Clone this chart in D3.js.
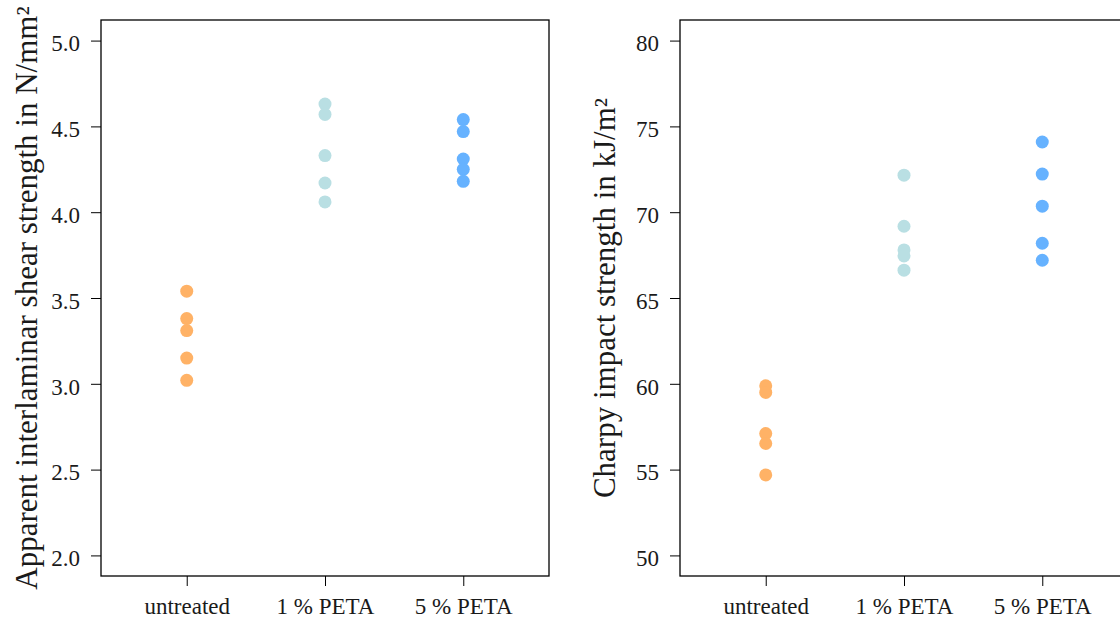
<!DOCTYPE html>
<html>
<head>
<meta charset="utf-8">
<script src="https://cdn.jsdelivr.net/npm/d3@7"></script>
<style>
  body { margin: 0; background: #fff; }
  svg { display: block; }
  svg text { font-family: "Liberation Serif", "Times New Roman", serif; }
</style>
</head>
<body>
<div id="chart"></div>
<script>
var groups = ["untreated", "1 % PETA", "5 % PETA"];
var groupColors = ["#FFB266", "#B9DFE3", "#66B2FF"];

// apparent interlaminar shear strength, N/mm²
var shearUntreated = [3.54, 3.38, 3.31, 3.15, 3.02];
var shearPeta1 = [4.63, 4.57, 4.33, 4.17, 4.06];
var shearPeta5 = [4.54, 4.47, 4.31, 4.25, 4.18];
var shearTicks = [2.0, 2.5, 3.0, 3.5, 4.0, 4.5, 5.0];

// charpy impact strength, kJ/m²
var impactUntreated = [59.88, 59.5, 57.1, 56.52, 54.69];
var impactPeta1 = [72.16, 69.18, 67.8, 67.45, 66.62];
var impactPeta5 = [74.09, 72.22, 70.35, 68.19, 67.2];
var impactTicks = [50, 55, 60, 65, 70, 75, 80];

var width = 1120, height = 619;
var plotTop = 20, plotBottom = 576, boxWidth = 448;

var svg = d3.select("#chart")
  .append("svg")
  .attr("width", width)
  .attr("height", height);

function panel(left, series, ticks, fmt, title, titleX) {
  var lo = ticks[0], hi = ticks[ticks.length - 1];
  var pad = (hi - lo) * 0.04;
  var plotHeight = plotBottom - plotTop;

  var x = d3.scaleLinear().domain([0.38, 3.62]).range([0, boxWidth]);
  var y = d3.scaleLinear().domain([lo - pad, hi + pad]).range([plotHeight, 0]);

  var g = svg.append("g")
    .attr("transform", "translate(" + left + "," + plotTop + ")");

  // points
  series.forEach(function(vals, i) {
    g.append("g")
      .selectAll("circle")
      .data(vals)
      .enter()
      .append("circle")
      .attr("cx", x(i + 1))
      .attr("cy", function(d) { return y(d); })
      .attr("r", 6.5)
      .style("fill", groupColors[i]);
  });

  // y axis
  var yAxis = g.append("g")
    .call(d3.axisLeft(y).tickValues(ticks).tickFormat(fmt).tickSize(10).tickPadding(11));
  yAxis.select(".domain").remove();
  yAxis.selectAll("text")
    .attr("dy", "0.45em")
    .style("font-size", "23px")
    .style("fill", "#1a1a1a");

  // x axis
  var xAxis = g.append("g")
    .attr("transform", "translate(0," + plotHeight + ")")
    .call(d3.axisBottom(x).tickValues([1, 2, 3]).tickFormat(function(d) {
      return groups[d - 1];
    }).tickSize(10).tickPadding(12));
  xAxis.select(".domain").remove();
  xAxis.selectAll("text")
    .style("font-size", "23px")
    .style("fill", "#1a1a1a");

  // box
  g.append("rect")
    .attr("width", boxWidth)
    .attr("height", plotHeight)
    .style("fill", "none")
    .style("stroke", "#000")
    .style("stroke-width", 1.3);

  svg.append("text")
    .attr("transform", "translate(" + titleX + "," + (plotTop + plotBottom) / 2 + ") rotate(-90)")
    .attr("text-anchor", "middle")
    .style("font-size", "31px")
    .style("fill", "#1a1a1a")
    .text(title);
}

panel(101, [shearUntreated, shearPeta1, shearPeta5], shearTicks, d3.format(".1f"),
  "Apparent interlaminar shear strength in N/mm\u00b2", 37);
panel(680, [impactUntreated, impactPeta1, impactPeta5], impactTicks, d3.format("d"),
  "Charpy impact strength in kJ/m\u00b2", 615);
</script>
</body>
</html>
